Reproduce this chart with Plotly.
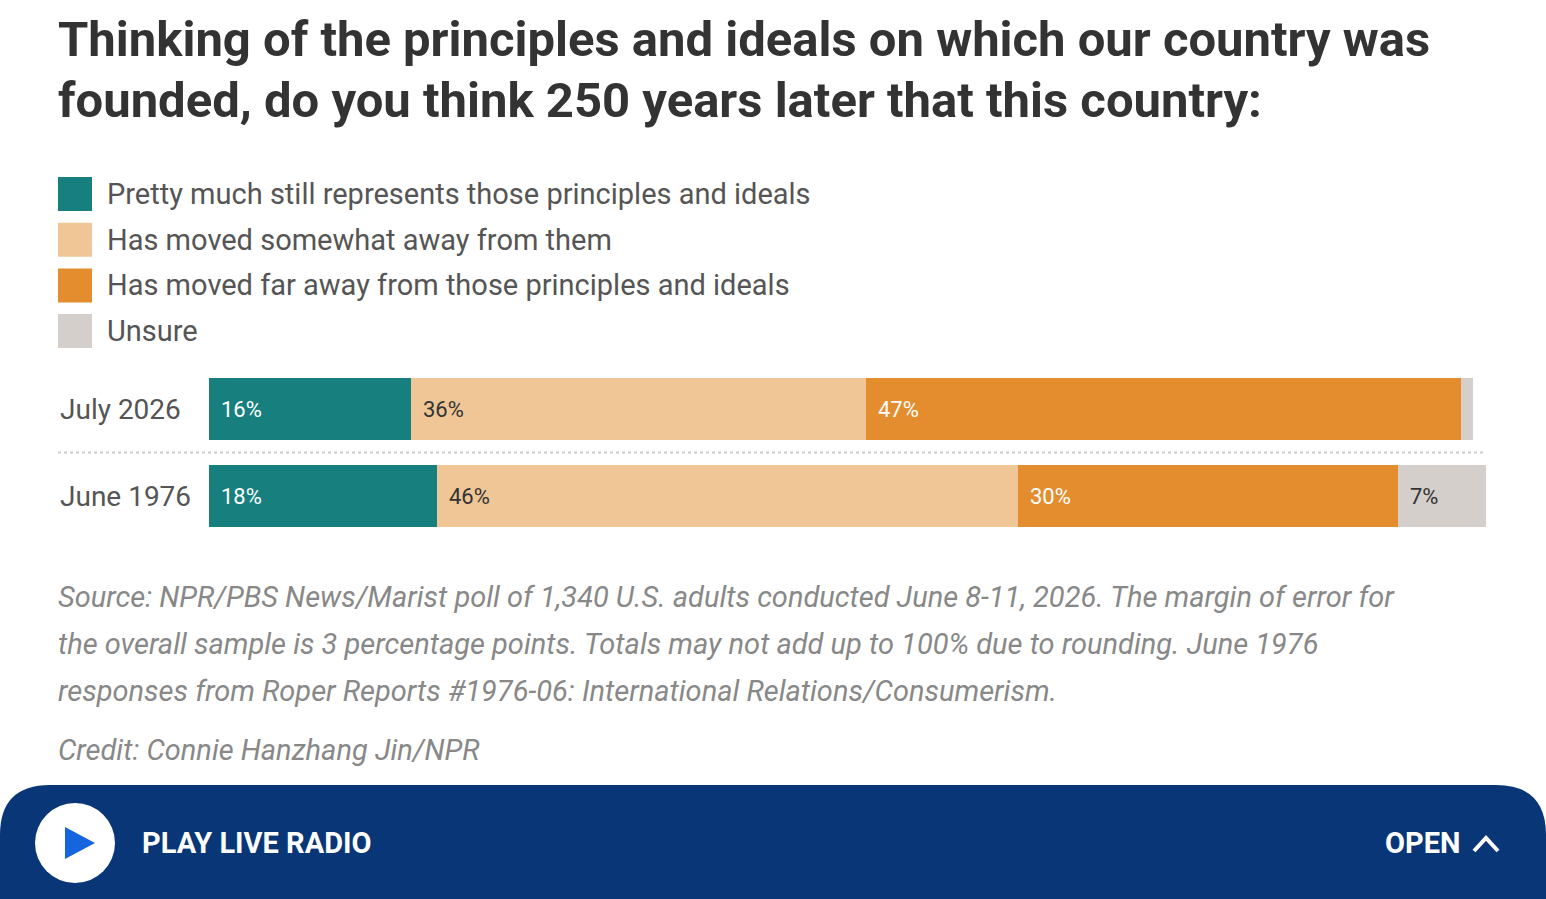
import plotly.graph_objects as go

# data
periods = ["July 2026", "June 1976"]
answers = [
    "Pretty much still represents those principles and ideals",
    "Has moved somewhat away from them",
    "Has moved far away from those principles and ideals",
    "Unsure",
]
july_2026 = [16, 36, 47, 1]
june_1976 = [18, 46, 30, 7]
show_label = [[True, True, True, False], [True, True, True, True]]

colors = ["#17807e", "#f0c697", "#e48d2e", "#d5cfcc"]
label_colors = ["#ffffff", "#333333", "#ffffff", "#333333"]

title_lines = [
    "Thinking of the principles and ideals on which our country was",
    "founded, do you think 250 years later that this country:",
]
note_lines = [
    "Source: NPR/PBS News/Marist poll of 1,340 U.S. adults conducted June 8-11, 2026. The margin of error for",
    "the overall sample is 3 percentage points. Totals may not add up to 100% due to rounding. June 1976",
    "responses from Roper Reports #1976-06: International Relations/Consumerism.",
]
credit = "Credit: Connie Hanzhang Jin/NPR"

W, H = 1546, 899
FONT = "Roboto"


def px(x):
    return x / W


def py(y):
    return 1 - y / H


values = [july_2026, june_1976]
fig = go.Figure()
for j, ans in enumerate(answers):
    fig.add_trace(go.Bar(
        y=periods,
        x=[v[j] for v in values],
        orientation="h",
        name=ans,
        marker=dict(color=colors[j], line=dict(width=0)),
        width=0.71,
        hoverinfo="x+name",
    ))

annotations = []
# labels inside the bars
for i, p in enumerate(periods):
    base = 0
    for j, v in enumerate(values[i]):
        if show_label[i][j]:
            annotations.append(dict(
                x=base, y=p, xref="x", yref="y", text=f"{v}%",
                xanchor="left", yanchor="middle", xshift=10, showarrow=False,
                font=dict(family=FONT, size=22, color=label_colors[j]),
            ))
        base += v
    annotations.append(dict(
        x=px(58), y=p, xref="paper", yref="y", text=p,
        xanchor="left", yanchor="middle", showarrow=False,
        font=dict(family=FONT, size=28, color="#555555"),
    ))

# title
for k, line in enumerate(title_lines):
    annotations.append(dict(
        x=px(56), y=py(40 + 60 * k), xref="paper", yref="paper",
        text=f"<b>{line}</b>", xanchor="left", yanchor="middle", showarrow=False,
        font=dict(family=FONT, size=49, color="#333333"),
    ))

shapes = []
# legend
for j, ans in enumerate(answers):
    yc = 194 + 45.7 * j
    shapes.append(dict(
        type="rect", xref="paper", yref="paper",
        x0=px(58), x1=px(92), y0=py(yc - 17), y1=py(yc + 17),
        fillcolor=colors[j], line=dict(width=0),
    ))
    annotations.append(dict(
        x=px(105), y=py(yc), xref="paper", yref="paper", text=ans,
        xanchor="left", yanchor="middle", showarrow=False,
        font=dict(family=FONT, size=29, color="#555555"),
    ))

# dotted separator between rows
shapes.append(dict(
    type="line", xref="paper", yref="y", x0=px(58), x1=px(1486), y0=0.5, y1=0.5,
    line=dict(color="#cccccc", width=2, dash="dot"),
))

# source note and credit
for k, line in enumerate(note_lines):
    annotations.append(dict(
        x=px(56), y=py(597 + 47 * k), xref="paper", yref="paper",
        text=f"<i>{line}</i>", xanchor="left", yanchor="middle", showarrow=False,
        font=dict(family=FONT, size=29, color="#888888"),
    ))
annotations.append(dict(
    x=px(56), y=py(750), xref="paper", yref="paper",
    text=f"<i>{credit}</i>", xanchor="left", yanchor="middle", showarrow=False,
    font=dict(family=FONT, size=29, color="#888888"),
))

# live radio bar at the bottom
r = 50
top = 785
bar_path = (
    f"M {px(0)} {py(H)} L {px(0)} {py(top + r)} "
    f"Q {px(0)} {py(top)} {px(r)} {py(top)} "
    f"L {px(W - r)} {py(top)} "
    f"Q {px(W)} {py(top)} {px(W)} {py(top + r)} "
    f"L {px(W)} {py(H)} Z"
)
shapes.append(dict(type="path", xref="paper", yref="paper", path=bar_path,
                   fillcolor="#083677", line=dict(width=0), layer="above"))
shapes.append(dict(type="circle", xref="paper", yref="paper",
                   x0=px(35), x1=px(115), y0=py(803), y1=py(883),
                   fillcolor="#ffffff", line=dict(width=0), layer="above"))
tri = (f"M {px(65)} {py(827)} L {px(95)} {py(843)} L {px(65)} {py(859)} Z")
shapes.append(dict(type="path", xref="paper", yref="paper", path=tri,
                   fillcolor="#1565de", line=dict(width=0), layer="above"))
chev = (f"M {px(1474)} {py(851)} L {px(1486)} {py(838)} L {px(1498)} {py(851)}")
shapes.append(dict(type="path", xref="paper", yref="paper", path=chev,
                   line=dict(color="#ffffff", width=4), layer="above"))
annotations.append(dict(
    x=px(140), y=py(843), xref="paper", yref="paper", text="<b>PLAY LIVE RADIO</b>",
    xanchor="left", yanchor="middle", showarrow=False,
    font=dict(family=FONT, size=29, color="#ffffff"),
))
annotations.append(dict(
    x=px(1462), y=py(843), xref="paper", yref="paper", text="<b>OPEN</b>",
    xanchor="right", yanchor="middle", showarrow=False,
    font=dict(family=FONT, size=29, color="#ffffff"),
))

fig.update_layout(
    width=W, height=H,
    margin=dict(l=0, r=0, t=0, b=0),
    barmode="stack",
    showlegend=False,
    plot_bgcolor="#ffffff",
    paper_bgcolor="#ffffff",
    bargap=0,
    xaxis=dict(domain=[px(209), px(1486)], range=[0, 101], visible=False, fixedrange=True),
    yaxis=dict(domain=[py(545), py(360)], range=[1 + 49 / 87, -49 / 87],
               visible=False, fixedrange=True),
    shapes=shapes,
    annotations=annotations,
)

# page has a default 8px body margin; drop it so the figure fills the window
fig.write_html("out.html", config={"displayModeBar": False},
               post_script="document.body.style.margin='0';")
